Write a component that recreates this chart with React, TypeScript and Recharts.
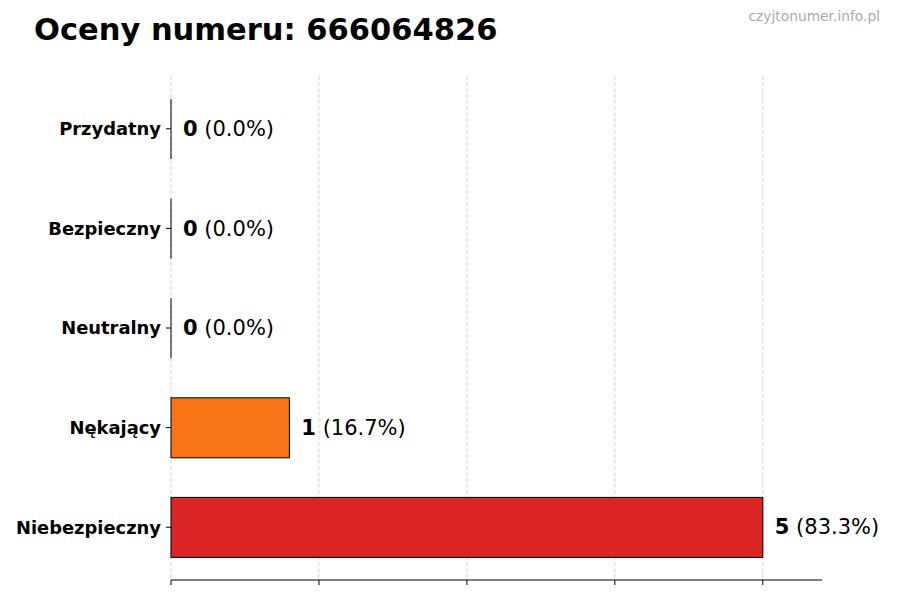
import React from 'react';
import { BarChart, Bar, XAxis, YAxis, CartesianGrid, LabelList, Cell } from 'recharts';

const categories = ['Przydatny', 'Bezpieczny', 'Neutralny', 'Nękający', 'Niebezpieczny'];
const counts = [0, 0, 0, 1, 5];
const colors = ['#22c55e', '#3b82f6', '#9ca3af', '#f97316', '#dc2626'];
const xTicks = [0, 1.25, 2.5, 3.75, 5];
const xDomain = [0, 5.5];
const title = 'Oceny numeru: 666064826';
const watermark = 'czyjtonumer.info.pl';

const total = counts.reduce((a, b) => a + b, 0);
const data = categories.map((name, i) => ({
  name,
  value: counts[i],
  pct: total ? (counts[i] / total) * 100 : 0,
}));

const FONT = '"DejaVu Sans", sans-serif';

const BarShape = (props: any) => {
  const { x, y, width, height, fill } = props;
  if (!width || width < 0.5) {
    return <line x1={x} x2={x} y1={y} y2={y + height} stroke="#000" strokeWidth={1} />;
  }
  return <rect x={x} y={y} width={width} height={height} fill={fill} stroke="#000" strokeWidth={1} />;
};

const ValueLabel = (props: any) => {
  const { x, y, width, height, index } = props;
  const d = data[index];
  return (
    <text
      x={Number(x) + Number(width) + 12}
      y={Number(y) + Number(height) / 2}
      dominantBaseline="central"
      fontSize={21}
      fontFamily={FONT}
      fill="#000"
    >
      <tspan fontWeight="bold">{d.value}</tspan>
      <tspan>{' (' + d.pct.toFixed(1) + '%)'}</tspan>
    </text>
  );
};

const EmptyTick = () => <g />;

const gridGen = (args: any) => {
  const xAxis = args && args.xAxis;
  if (xAxis && typeof xAxis.scale === 'function') {
    return xTicks.map((t) => xAxis.scale(t));
  }
  const off = args.offset;
  return xTicks.map((t) => off.left + ((t - xDomain[0]) / (xDomain[1] - xDomain[0])) * off.width);
};

export default function App() {
  return (
    <div style={{ position: 'absolute', left: 0, top: 0, width: 900, height: 600, background: '#fff', fontFamily: FONT }}>
      <BarChart
        width={900}
        height={600}
        data={data}
        layout="vertical"
        margin={{ top: 76, right: 78, bottom: 0, left: 0 }}
      >
        <XAxis
          type="number"
          domain={xDomain}
          ticks={xTicks}
          interval={0}
          tick={EmptyTick}
          tickSize={5}
          height={20}
          axisLine={{ stroke: '#000', strokeWidth: 1 }}
          tickLine={{ stroke: '#000', strokeWidth: 1 }}
        />
        <YAxis
          type="category"
          dataKey="name"
          width={171}
          axisLine={false}
          tickLine={{ stroke: '#000', strokeWidth: 1 }}
          tickSize={5}
          tickMargin={5}
          padding={{ top: 3, bottom: 3 }}
          interval={0}
          tick={{ fontSize: 17.9, fontWeight: 'bold', fill: '#000', fontFamily: FONT }}
        />
        <Bar dataKey="value" barSize={60} isAnimationActive={false} shape={BarShape}>
          {data.map((d, i) => (
            <Cell key={d.name} fill={colors[i]} />
          ))}
          <LabelList dataKey="value" content={ValueLabel} />
        </Bar>
        <CartesianGrid
          horizontal={false}
          stroke="#b0b0b0"
          strokeOpacity={0.55}
          strokeDasharray="4 2"
          verticalCoordinatesGenerator={gridGen}
        />
      </BarChart>
      <div
        style={{
          position: 'absolute',
          left: 34,
          top: 14.5,
          fontSize: 30.5,
          lineHeight: '30.5px',
          fontWeight: 'bold',
          color: '#000',
          whiteSpace: 'nowrap',
        }}
      >
        {title}
      </div>
      <div
        style={{
          position: 'absolute',
          right: 20,
          top: 10.4,
          fontSize: 13.8,
          lineHeight: '13.8px',
          color: '#aaaaaa',
          whiteSpace: 'nowrap',
        }}
      >
        {watermark}
      </div>
    </div>
  );
}
